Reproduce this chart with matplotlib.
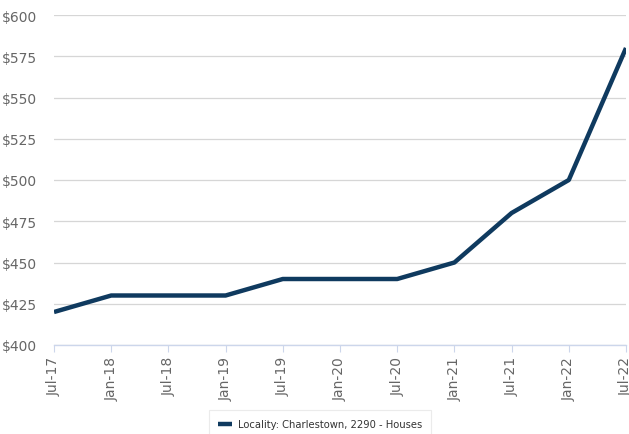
import matplotlib.pyplot as plt
import numpy as np

plt.rcParams["font.family"] = ["DejaVu Sans"]

# data
dates = ["Jul-17", "Jan-18", "Jul-18", "Jan-19", "Jul-19", "Jan-20",
         "Jul-20", "Jan-21", "Jul-21", "Jan-22", "Jul-22"]
rents = [420, 430, 430, 430, 440, 440, 440, 450, 480, 500, 580]
y_ticks = [400, 425, 450, 475, 500, 525, 550, 575, 600]
series_name = "Locality: Charlestown, 2290 - Houses"

W, H = 629, 435
fig = plt.figure(figsize=(W / 100, H / 100), dpi=100)
ax = fig.add_axes([54 / W, 1 - 346 / H, (626 - 54) / W, (346 - 16) / H])

x = np.arange(len(dates))
ax.plot(x, rents, color="#0f3a5f", linewidth=3.2, solid_capstyle="butt",
        label=series_name, zorder=3)

ax.set_xlim(x[0], x[-1])
ax.set_ylim(400, 600)
ax.set_yticks(y_ticks)
ax.set_yticklabels(["$%d" % v for v in y_ticks])
ax.set_xticks(x)
ax.set_xticklabels(dates, rotation=90)

ax.grid(axis="y", color="#d6d6d6", linewidth=0.9)
ax.set_axisbelow(True)
for s in ["top", "right", "left"]:
    ax.spines[s].set_visible(False)
ax.spines["bottom"].set_color("#ccd6eb")
ax.spines["bottom"].set_linewidth(1)

ax.tick_params(axis="y", length=0, pad=12, labelsize=10, labelcolor="#666666")
ax.tick_params(axis="x", length=5, color="#ccd6eb", pad=3, labelsize=10,
               labelcolor="#666666")

leg = fig.legend(loc="upper left", bbox_to_anchor=(204 / W, 1 - 406 / H),
                 fontsize=7.2, frameon=True, fancybox=False, handlelength=1.4,
                 handletextpad=0.6, borderpad=0.9, labelcolor="#333333")
leg.get_frame().set_edgecolor("#e6e6e6")
leg.get_frame().set_linewidth(0.8)

fig.savefig("out.png", dpi=100)
